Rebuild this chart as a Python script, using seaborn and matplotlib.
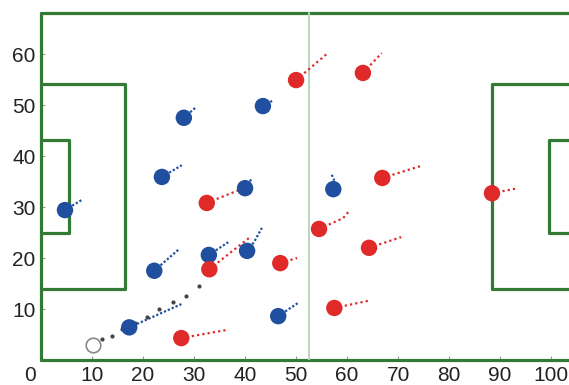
import matplotlib
matplotlib.use("Agg")
import matplotlib.pyplot as plt
import matplotlib.transforms as mtransforms
import numpy as np
import pandas as pd
import seaborn as sns

# player positions (metres)
blue_x = [4.7, 22.2, 32.9, 40.4, 17.3, 46.5, 28.0, 23.7, 43.5, 40.0, 57.3]
blue_y = [29.4, 17.5, 20.6, 21.4, 6.4, 8.6, 47.5, 35.9, 49.8, 33.7, 33.5]
# trail waypoints after each player position
blue_trails = [
    [(8.0, 31.4)],
    [(26.9, 21.6)],
    [(36.7, 23.1)],
    [(41.8, 23.2), (43.3, 25.9)],
    [(27.6, 11.0)],
    [(50.4, 11.2)],
    [(30.4, 49.6)],
    [(27.6, 38.2)],
    [(45.3, 50.8)],
    [(41.4, 35.7)],
    [(57.4, 35.5), (56.9, 36.5)],
]

red_x = [50.0, 63.1, 32.5, 66.9, 88.4, 33.0, 46.9, 27.5, 54.5, 64.3, 57.5]
red_y = [54.9, 56.3, 30.8, 35.7, 32.7, 17.8, 19.0, 4.3, 25.7, 22.0, 10.2]
red_trails = [
    [(56.0, 60.0)],
    [(66.8, 60.2)],
    [(39.0, 33.4)],
    [(74.3, 38.0)],
    [(93.5, 33.7)],
    [(41.0, 24.1)],
    [(50.2, 20.0)],
    [(36.4, 5.9)],
    [(59.2, 27.8), (60.4, 29.2)],
    [(70.6, 24.1)],
    [(64.1, 11.6)],
]

ball_x, ball_y = 10.2, 2.9
ball_trail_x = [11.96, 13.9, 15.9, 18.4, 20.8, 23.1, 25.9, 28.4, 31.0]
ball_trail_y = [4.1, 4.7, 6.1, 7.3, 8.4, 10.0, 11.4, 12.5, 14.5]

x_ticks = [0, 10, 20, 30, 40, 50, 60, 70, 80, 90, 100]
y_ticks = [10, 20, 30, 40, 50, 60]

BLUE = "#1f4f9e"
RED = "#e02a2a"
GREEN = "#337b35"

sns.set_style("white")
plt.rcParams['font.family'] = ['Liberation Sans', 'DejaVu Sans']

fig = plt.figure(figsize=(5.69, 3.85), dpi=100)
ax = fig.add_axes([41 / 569, 25 / 385, 528 / 569, 360 / 385])

# pitch 105 x 68
L, W = 105, 68
lw = 2.3
ax.plot([0, L], [W, W], color=GREEN, lw=lw, clip_on=False, zorder=1)
ax.plot([0, L], [0, 0], color=GREEN, lw=lw, clip_on=False, zorder=1)
ax.plot([0, 0], [0, W], color=GREEN, lw=lw, clip_on=False, zorder=1)
ax.plot([L / 2, L / 2], [0, W], color="#b9d6b9", lw=1.4, zorder=1)
for x0, sgn in [(0, 1), (L, -1)]:
    for depth, half in [(16.5, 20.16), (5.5, 9.16)]:
        xs = [x0, x0 + sgn * depth, x0 + sgn * depth, x0]
        ys = [W / 2 + half, W / 2 + half, W / 2 - half, W / 2 - half]
        ax.plot(xs, ys, color=GREEN, lw=lw, clip_on=False, zorder=1)

# trails
for px, py, tr in zip(blue_x, blue_y, blue_trails):
    xs = [px] + [p[0] for p in tr]
    ys = [py] + [p[1] for p in tr]
    ax.plot(xs, ys, color=BLUE, lw=1.6, linestyle=(0, (1, 0.9)), zorder=2)
for px, py, tr in zip(red_x, red_y, red_trails):
    xs = [px] + [p[0] for p in tr]
    ys = [py] + [p[1] for p in tr]
    ax.plot(xs, ys, color=RED, lw=1.6, linestyle=(0, (1, 1.4)), zorder=2)
ax.scatter(ball_trail_x, ball_trail_y, s=4, color="#444444", zorder=2)

players = pd.DataFrame({
    "x": blue_x + red_x,
    "y": blue_y + red_y,
    "team": ["home"] * len(blue_x) + ["away"] * len(red_x),
})
sns.scatterplot(data=players, x="x", y="y", hue="team",
                palette={"home": BLUE, "away": RED}, s=140,
                edgecolor="none", legend=False, ax=ax, zorder=3)
ax.scatter([ball_x], [ball_y], s=110, facecolor="white",
           edgecolor="#888888", linewidth=1.2, zorder=3)

ax.set_xlim(0, 103.5)
ax.set_ylim(0, 70.6)
ax.set_xticks(x_ticks)
ax.set_yticks(y_ticks)
ax.set_xlabel("")
ax.set_ylabel("")
ax.tick_params(direction="in", length=3, width=0.8, color="#999999",
               labelsize=15, labelcolor="#222222", pad=4)
ax.tick_params(axis="y", left=True)
ax.tick_params(axis="x", bottom=True)
zero_lbl = ax.get_xticklabels()[0]
zero_lbl.set_horizontalalignment("right")
zero_lbl.set_transform(zero_lbl.get_transform() +
                       mtransforms.ScaledTranslation(-4 / 72, 0, fig.dpi_scale_trans))
for s in ax.spines.values():
    s.set_visible(False)

fig.savefig("out.png", dpi=100)
